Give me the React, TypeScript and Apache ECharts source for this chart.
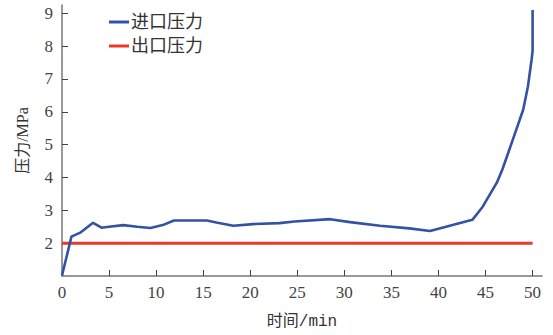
import React, { useEffect, useRef } from "react";
import * as echarts from "echarts";

// 进口压力 (inlet) samples: time in minutes, pressure in MPa
const inletTime = [
  0, 0.5, 1.0, 2.0, 3.3, 4.2, 5.0, 6.5, 8.0, 9.4, 10.7, 11.9, 15.4, 16.4, 18.2,
  20.3, 23.1, 24.7, 28.5, 30.6, 33.8, 36.9, 39.1, 41.2, 43.6, 44.7, 46.2, 46.8,
  47.9, 49.0, 49.5, 49.9, 50.0, 50.0,
];
const inletPressure = [
  1.02, 1.6, 2.2, 2.33, 2.62, 2.47, 2.5, 2.55, 2.5, 2.46, 2.55, 2.69, 2.69, 2.63,
  2.53, 2.58, 2.61, 2.66, 2.73, 2.64, 2.53, 2.45, 2.37, 2.53, 2.71, 3.11, 3.84,
  4.25, 5.15, 6.06, 6.76, 7.6, 7.85, 9.1,
];

// 出口压力 (outlet) samples
const outletTime = [0, 50];
const outletPressure = [2.0, 2.0];

const xTicks = [0, 5, 10, 15, 20, 25, 30, 35, 40, 45, 50];
const yTicks = [2, 3, 4, 5, 6, 7, 8, 9];

const seriesNames = ["进口压力", "出口压力"];

const serif = "Liberation Serif, Noto Sans CJK SC, serif";
const mono = "Liberation Mono, Noto Sans CJK SC, monospace";

export default function App() {
  const ref = useRef<HTMLDivElement>(null);

  useEffect(() => {
    if (!ref.current) return;
    document.body.style.margin = "0";
    const chart = echarts.init(ref.current, null, { renderer: "svg" });
    const inlet = inletTime.map((t, i) => [t, inletPressure[i]]);
    const outlet = outletTime.map((t, i) => [t, outletPressure[i]]);

    chart.setOption({
      animation: false,
      backgroundColor: "#ffffff",
      textStyle: { fontFamily: serif },
      grid: { left: 62, right: 11, top: 5, bottom: 59 },
      legend: {
        orient: "vertical",
        left: 104,
        top: 8,
        itemWidth: 20,
        itemHeight: 3,
        itemGap: 6,
        icon: "rect",
        textStyle: {
          fontSize: 18,
          color: "#333",
          fontFamily: serif,
          padding: [0, 0, 0, -3],
        },
        data: seriesNames,
      },
      xAxis: {
        type: "value",
        min: 0,
        max: 51,
        name: "时间/min",
        nameLocation: "middle",
        nameGap: 38,
        nameTextStyle: {
          fontSize: 16,
          color: "#333",
          fontFamily: mono,
        },
        splitLine: { show: false },
        axisLine: { lineStyle: { color: "#777", width: 1.5 } },
        axisTick: {
          inside: true,
          length: 6,
          customValues: xTicks,
          lineStyle: { color: "#444", width: 1 },
        },
        axisLabel: {
          customValues: xTicks,
          fontSize: 17,
          color: "#444",
          fontFamily: serif,
          margin: 8,
        },
      },
      yAxis: {
        type: "value",
        min: 1,
        max: 9.25,
        name: "压力/MPa",
        nameLocation: "middle",
        nameGap: 32,
        nameRotate: 90,
        nameTextStyle: { fontSize: 16, color: "#333", fontFamily: serif },
        splitLine: { show: false },
        axisLine: { show: true, lineStyle: { color: "#777", width: 1.5 } },
        axisTick: {
          inside: true,
          length: 6,
          customValues: yTicks,
          lineStyle: { color: "#444", width: 1 },
        },
        axisLabel: {
          customValues: yTicks,
          fontSize: 17,
          color: "#444",
          fontFamily: serif,
          margin: 9,
        },
      },
      series: [
        {
          name: seriesNames[0],
          type: "line",
          data: inlet,
          showSymbol: false,
          z: 3,
          color: "#3352a3",
          lineStyle: { color: "#3352a3", width: 2.6 },
        },
        {
          name: seriesNames[1],
          type: "line",
          data: outlet,
          showSymbol: false,
          z: 2,
          color: "#e8392a",
          lineStyle: { color: "#e8392a", width: 3 },
        },
      ],
    });

    return () => chart.dispose();
  }, []);

  return <div ref={ref} style={{ width: 553, height: 335 }} />;
}
